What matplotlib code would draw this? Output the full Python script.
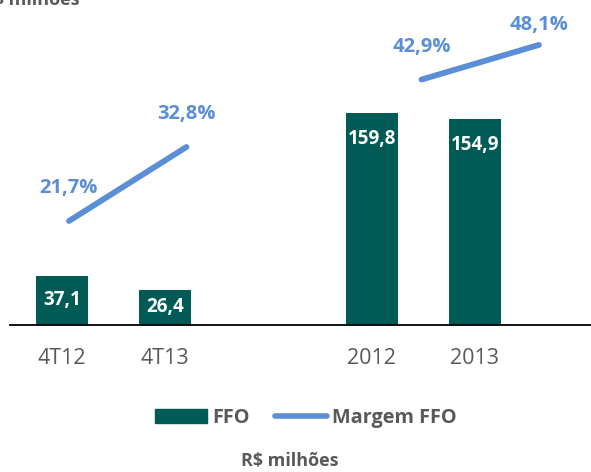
import numpy as np
import matplotlib.pyplot as plt
from matplotlib.patches import Patch
from matplotlib.lines import Line2D

# FFO (R$ milhoes) and margem FFO (%)
categories = ['4T12', '4T13', '2012', '2013']
positions = [0, 1, 3, 4]
ffo = [37.1, 26.4, 159.8, 154.9]
margem = [21.7, 32.8, 42.9, 48.1]

bar_color = '#005A55'
line_color = '#5A8ED6'
gray = '#595959'

plt.rcParams['font.family'] = ['Open Sans', 'DejaVu Sans']

W, H = 591, 472
fig = plt.figure(figsize=(W / 100, H / 100), dpi=100)
rect = [10 / W, 1 - 325 / H, 581 / W, 325 / H]
ax = fig.add_axes(rect)
ax2 = fig.add_axes(rect)

# bars
ax.bar(positions, ffo, width=0.5, color=bar_color, zorder=2)
ax.set_xlim(-0.504, 5.124)
ax.set_ylim(0, 244.9)
for s in ['top', 'left', 'right']:
    ax.spines[s].set_visible(False)
ax.spines['bottom'].set_color('black')
ax.spines['bottom'].set_linewidth(1.3)
ax.set_yticks([])
ax.set_xticks(positions)
ax.set_xticklabels(categories, fontsize=15.5, color=gray)
ax.tick_params(axis='x', length=0, pad=16.5)
for x, v in zip(positions, ffo):
    y = v - min(19.6, v / 2)
    ax.text(x, y, f'{v:.1f}'.replace('.', ','), ha='center', va='center',
            color='white', fontsize=13.5, fontweight='bold', zorder=3)

# margin lines (own category scale)
ax2.set_xlim(-0.502, 4.443)
ax2.set_ylim(6.11, 54.83)
ax2.axis('off')
ax2.patch.set_alpha(0)
for i in (0, 2):
    ax2.plot(positions[i:i + 2], margem[i:i + 2], color=line_color, lw=4.2,
             solid_capstyle='round')
for x, v in zip(positions, margem):
    ax2.text(x, min(v + 4.9, 51.1), f'{v:.1f}%'.replace('.', ','),
             ha='center', va='center', color=line_color, fontsize=14.5,
             fontweight='bold')

handles = [Patch(color=bar_color, label='FFO'),
           Line2D([0], [0], color=line_color, lw=4, solid_capstyle='round',
                  label='Margem FFO')]
leg = fig.legend(handles=handles, loc='center', ncol=2, frameon=False,
                 bbox_to_anchor=(306 / W, 1 - 418 / H), fontsize=14.3,
                 handlelength=2.6, handletextpad=0.25, columnspacing=1.3)
for t in leg.get_texts():
    t.set_color(gray)
    t.set_fontweight('bold')

fig.text(290 / W, 1 - 461 / H, 'R$ milhões', ha='center', va='center',
         fontsize=13, fontweight='bold', color=gray)
fig.text(80 / W, 1 - 5 / H, 'R$ milhões', ha='right', va='baseline',
         fontsize=13, fontweight='bold', color=gray)

fig.savefig('out.png', dpi=100)
